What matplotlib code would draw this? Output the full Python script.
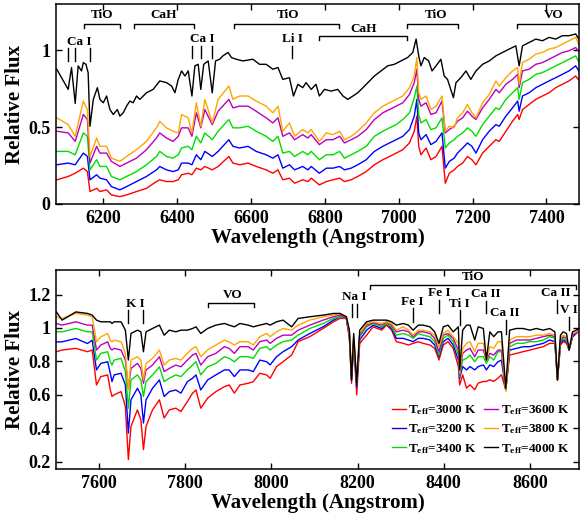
import matplotlib
matplotlib.use("Agg")
import matplotlib.pyplot as plt
import numpy as np

plt.rcParams['font.family'] = ['Liberation Serif', 'DejaVu Serif']
plt.rcParams['font.weight'] = 'bold'
plt.rcParams['mathtext.fontset'] = 'custom'
plt.rcParams['mathtext.rm'] = 'Liberation Serif:bold'
plt.rcParams['mathtext.bf'] = 'Liberation Serif:bold'
plt.rcParams['mathtext.it'] = 'Liberation Serif:bold:italic'

# ---------------- data: upper panel (6080-7490 A) ----------------
wave_top = [6074, 6105, 6124, 6146, 6157, 6164, 6182, 6191, 6209, 6222, 6245, 6263, 6290, 6317,
            6344, 6353, 6371, 6389, 6403, 6412, 6430, 6440, 6452, 6464, 6475, 6495, 6511, 6540,
            6551, 6569, 6592, 6614, 6641, 6659, 6673, 6686,
            6704, 6718, 6740, 6754, 6763, 6785, 6804, 6822, 6840, 6853, 6871, 6889, 6912, 6934,
            6957, 6975, 6993, 7011, 7029, 7042, 7049, 7054, 7060, 7074, 7087, 7101, 7117, 7126,
            7137, 7150, 7159, 7173, 7186, 7198, 7209, 7227, 7245, 7263, 7272, 7290, 7308, 7322,
            7326, 7335, 7353, 7371, 7389, 7407, 7425, 7443, 7461, 7479, 7493]

top_3800 = [0.56, 0.516, 0.44, 0.669, 0.614, 0.309, 0.429, 0.375, 0.375, 0.298, 0.277, 0.309, 0.353, 0.407,
            0.495, 0.538, 0.495, 0.473, 0.462, 0.582, 0.56, 0.462, 0.658, 0.505, 0.68, 0.527, 0.68, 0.767,
            0.68, 0.702, 0.702, 0.669, 0.636, 0.593, 0.636, 0.473,
            0.527, 0.44, 0.484, 0.462, 0.484, 0.407, 0.462, 0.451, 0.473, 0.418, 0.44, 0.473, 0.527, 0.593,
            0.636, 0.658, 0.68, 0.702, 0.756, 0.832, 0.952, 0.723, 0.68, 0.702, 0.614, 0.636, 0.702, 0.473,
            0.505, 0.495, 0.56, 0.593, 0.647, 0.593, 0.56, 0.658, 0.712, 0.80, 0.767, 0.821, 0.865, 0.887,
            0.778, 0.919, 0.941, 0.974, 0.985, 1.007, 1.017, 1.039, 1.061, 1.083, 1.007]

top_3600 = [0.473, 0.462, 0.407, 0.582, 0.549, 0.266, 0.375, 0.331, 0.331, 0.277, 0.244, 0.266, 0.298, 0.353,
            0.429, 0.462, 0.429, 0.407, 0.44, 0.495, 0.495, 0.44, 0.593, 0.495, 0.614, 0.516, 0.603, 0.68,
            0.625, 0.636, 0.636, 0.603, 0.56, 0.527, 0.56, 0.44,
            0.462, 0.418, 0.451, 0.429, 0.451, 0.386, 0.418, 0.418, 0.44, 0.397, 0.418, 0.44, 0.484, 0.549,
            0.593, 0.614, 0.636, 0.658, 0.712, 0.789, 0.876, 0.68, 0.636, 0.658, 0.582, 0.593, 0.669, 0.462,
            0.484, 0.505, 0.538, 0.56, 0.603, 0.571, 0.549, 0.625, 0.68, 0.745, 0.723, 0.778, 0.81, 0.843,
            0.756, 0.865, 0.876, 0.908, 0.919, 0.941, 0.963, 0.985, 0.996, 1.017, 0.974]

top_3400 = [0.342, 0.342, 0.32, 0.462, 0.44, 0.222, 0.288, 0.244, 0.244, 0.179, 0.157, 0.179, 0.211, 0.255,
            0.309, 0.342, 0.309, 0.298, 0.32, 0.364, 0.375, 0.353, 0.44, 0.397, 0.462, 0.418, 0.473, 0.549,
            0.495, 0.495, 0.505, 0.473, 0.44, 0.407, 0.44, 0.331,
            0.342, 0.309, 0.342, 0.32, 0.342, 0.288, 0.32, 0.32, 0.342, 0.298, 0.32, 0.342, 0.375, 0.44,
            0.473, 0.495, 0.516, 0.549, 0.593, 0.691, 0.767, 0.582, 0.527, 0.549, 0.484, 0.495, 0.56, 0.364,
            0.397, 0.418, 0.44, 0.462, 0.495, 0.473, 0.44, 0.516, 0.571, 0.625, 0.614, 0.68, 0.723, 0.756,
            0.68, 0.789, 0.81, 0.843, 0.854, 0.876, 0.898, 0.919, 0.941, 0.963, 0.898]

top_3200 = [0.255, 0.266, 0.255, 0.331, 0.309, 0.157, 0.19, 0.168, 0.157, 0.113, 0.092, 0.113, 0.146, 0.179,
            0.222, 0.244, 0.222, 0.211, 0.222, 0.266, 0.266, 0.255, 0.32, 0.288, 0.342, 0.309, 0.342, 0.418,
            0.375, 0.364, 0.375, 0.342, 0.32, 0.298, 0.32, 0.233,
            0.255, 0.222, 0.244, 0.222, 0.244, 0.2, 0.233, 0.233, 0.244, 0.222, 0.233, 0.255, 0.288, 0.342,
            0.375, 0.397, 0.418, 0.44, 0.484, 0.571, 0.68, 0.462, 0.418, 0.451, 0.386, 0.407, 0.462, 0.233,
            0.277, 0.298, 0.331, 0.364, 0.397, 0.375, 0.331, 0.418, 0.473, 0.516, 0.505, 0.571, 0.625, 0.669,
            0.603, 0.702, 0.723, 0.756, 0.778, 0.80, 0.821, 0.843, 0.865, 0.898, 0.843]

top_3000 = [0.157, 0.179, 0.2, 0.233, 0.211, 0.081, 0.102, 0.081, 0.092, 0.059, 0.048, 0.059, 0.081, 0.102,
            0.146, 0.157, 0.146, 0.146, 0.157, 0.19, 0.2, 0.19, 0.233, 0.222, 0.244, 0.222, 0.244, 0.309,
            0.266, 0.255, 0.266, 0.244, 0.222, 0.2, 0.222, 0.157,
            0.168, 0.135, 0.157, 0.146, 0.168, 0.124, 0.146, 0.157, 0.168, 0.146, 0.157, 0.179, 0.211, 0.255,
            0.288, 0.309, 0.331, 0.353, 0.397, 0.473, 0.571, 0.375, 0.32, 0.364, 0.288, 0.309, 0.375, 0.135,
            0.2, 0.222, 0.244, 0.266, 0.309, 0.288, 0.255, 0.331, 0.375, 0.418, 0.407, 0.473, 0.538, 0.582,
            0.549, 0.614, 0.647, 0.68, 0.702, 0.723, 0.756, 0.778, 0.80, 0.832, 0.789]

wave_top_4000 = [6074, 6105, 6114, 6124, 6132, 6141, 6146, 6153, 6159, 6164, 6173, 6184, 6191, 6200,
                 6209, 6218, 6227, 6238, 6245, 6254, 6263, 6272, 6281, 6290, 6299, 6317, 6335, 6353,
                 6371, 6385, 6394, 6403, 6412, 6421, 6430, 6440, 6448, 6457, 6464, 6472, 6484, 6495,
                 6504, 6515, 6524, 6538, 6547, 6560, 6578, 6605, 6623, 6641, 6659, 6673, 6686, 6704,
                 6715, 6727, 6740, 6749, 6763, 6776, 6785, 6799, 6817, 6835, 6849, 6862, 6876, 6889,
                 6903, 6921, 6934, 6952, 6970, 6988, 7006, 7024, 7038, 7047, 7054, 7060, 7069, 7081,
                 7090, 7101, 7114, 7123, 7132, 7148, 7155, 7168, 7182, 7195, 7209, 7227, 7245, 7263,
                 7281, 7299, 7317, 7326, 7335, 7353, 7371, 7389, 7407, 7425, 7443, 7461, 7479, 7493]
top_4000 = [0.876, 0.745, 0.887, 0.654, 0.898, 0.865, 0.919, 0.908, 0.854, 0.505, 0.68, 0.756, 0.68, 0.658,
            0.702, 0.614, 0.582, 0.614, 0.571, 0.593, 0.636, 0.669, 0.658, 0.702, 0.68, 0.723, 0.745, 0.80,
            0.789, 0.767, 0.723, 0.81, 0.865, 0.832, 0.865, 0.702, 0.898, 0.908, 0.745, 0.908, 0.93, 0.723,
            0.93, 0.941, 0.963, 0.985, 0.952, 0.941, 0.93, 0.941, 0.908, 0.908, 0.876, 0.887, 0.81, 0.821,
            0.702, 0.778, 0.756, 0.789, 0.745, 0.778, 0.702, 0.745, 0.734, 0.745, 0.702, 0.68, 0.702, 0.723,
            0.756, 0.80, 0.832, 0.865, 0.898, 0.908, 0.93, 0.952, 0.985, 1.072, 0.963, 0.898, 0.952, 0.93,
            0.865, 0.898, 0.941, 0.832, 0.81, 0.691, 0.789, 0.821, 0.865, 0.81, 0.865, 0.908, 0.93, 0.963,
            0.985, 1.007, 1.028, 0.898, 1.028, 1.05, 1.072, 1.061, 1.083, 1.072, 1.094, 1.094, 1.105, 1.05]

# ---------------- data: lower panel (7500-8715 A) ----------------
wave_bot = [7501, 7514, 7546, 7573, 7584, 7594, 7604, 7620, 7626, 7630, 7635, 7651, 7661, 7668, 7674,
            7689, 7697, 7703, 7709, 7724, 7740, 7751, 7763, 7778, 7790, 7805, 7817, 7825, 7836, 7852,
            7871, 7891, 7902, 7914,
            7927, 7946, 7958, 7973, 7989, 7997, 8012, 8027, 8047, 8062,
            8089, 8120, 8144, 8159, 8174, 8181, 8186, 8191, 8198, 8205, 8221, 8236, 8256, 8267, 8279,
            8290, 8306, 8318, 8329, 8341, 8352, 8368, 8379, 8389, 8399, 8410, 8422, 8434, 8437, 8444,
            8453, 8461, 8472, 8480, 8492, 8499, 8507, 8516, 8526, 8534, 8544, 8553, 8569, 8584, 8600,
            8615, 8631, 8646, 8658, 8664, 8671, 8677, 8685, 8691, 8699, 8716]

bot_4000 = [1.096, 1.047, 1.096, 1.087, 1.077, 1.047, 1.037, 1.037, 1.037, 1.027, 1.037, 1.037, 0.987, 0.808, 0.967,
            0.987, 0.977, 0.858, 0.977, 0.997, 1.017, 0.957, 0.987, 0.977, 0.987, 0.987, 0.997, 1.007, 0.967, 0.997,
            1.017, 1.027, 1.017, 1.007,
            1.027, 1.017, 1.007, 1.017, 1.027, 1.017, 1.037, 1.047, 1.007, 1.057,
            1.067, 1.077, 1.087, 1.087, 1.067, 0.987, 0.689, 0.967, 0.669, 0.987, 1.037, 1.047, 1.047, 1.047, 1.037,
            1.017, 1.027, 1.017, 0.987, 1.017, 1.017, 1.007, 0.977, 0.908, 1.007, 1.017, 0.977, 1.007, 0.749, 0.987,
            1.017, 1.017, 0.928, 1.007, 0.997, 0.808, 0.977, 0.948, 0.977, 0.977, 0.639, 0.987, 0.997, 0.997, 0.987,
            0.997, 0.987, 0.997, 0.977, 0.689, 0.957, 0.977, 0.967, 0.868, 0.977, 0.997]

bot_3800 = [1.067, 1.057, 1.087, 1.077, 1.067, 0.917, 0.947, 0.967, 0.927, 0.917, 0.927, 0.917, 0.848, 0.629, 0.808,
            0.828, 0.808, 0.689, 0.788, 0.818, 0.868, 0.778, 0.808, 0.818, 0.808, 0.848, 0.878, 0.888, 0.828, 0.868,
            0.898, 0.927, 0.917, 0.898,
            0.918, 0.918, 0.898, 0.948, 0.967, 0.948, 0.977, 0.997, 0.987, 1.017,
            1.047, 1.067, 1.077, 1.087, 1.067, 0.977, 0.729, 0.948, 0.689, 0.967, 1.027, 1.037, 1.027, 1.037, 1.027,
            0.987, 1.007, 0.987, 0.957, 0.987, 0.987, 0.977, 0.957, 0.888, 0.967, 0.987, 0.948, 0.908, 0.729, 0.878,
            0.908, 0.918, 0.858, 0.908, 0.908, 0.808, 0.888, 0.878, 0.918, 0.918, 0.62, 0.928, 0.948, 0.948, 0.948,
            0.957, 0.957, 0.967, 0.957, 0.689, 0.938, 0.957, 0.948, 0.868, 0.967, 0.987]

bot_3600 = [1.027, 1.017, 1.037, 1.017, 1.017, 0.868, 0.898, 0.917, 0.878, 0.868, 0.878, 0.868, 0.808, 0.639, 0.758,
            0.788, 0.758, 0.669, 0.749, 0.778, 0.828, 0.739, 0.758, 0.778, 0.768, 0.808, 0.838, 0.848, 0.778, 0.828,
            0.848, 0.888, 0.878, 0.848,
            0.888, 0.888, 0.868, 0.918, 0.928, 0.908, 0.938, 0.957, 0.957, 0.987,
            1.017, 1.047, 1.067, 1.077, 1.057, 0.967, 0.729, 0.938, 0.679, 0.957, 1.017, 1.031, 1.017, 1.037, 1.017,
            0.977, 0.987, 0.977, 0.948, 0.977, 0.977, 0.967, 0.938, 0.858, 0.957, 0.967, 0.938, 0.868, 0.719, 0.848,
            0.868, 0.878, 0.828, 0.868, 0.868, 0.808, 0.848, 0.838, 0.868, 0.868, 0.629, 0.908, 0.928, 0.928, 0.928,
            0.938, 0.948, 0.957, 0.948, 0.689, 0.928, 0.948, 0.938, 0.868, 0.957, 0.987]

bot_3400 = [0.977, 0.977, 0.997, 0.977, 0.977, 0.808, 0.848, 0.858, 0.798, 0.778, 0.808, 0.818, 0.739, 0.520, 0.689,
            0.719, 0.689, 0.590, 0.679, 0.719, 0.768, 0.679, 0.699, 0.719, 0.709, 0.749, 0.778, 0.798, 0.719, 0.768,
            0.788, 0.828, 0.818, 0.798,
            0.828, 0.828, 0.818, 0.878, 0.888, 0.868, 0.898, 0.918, 0.928, 0.957,
            0.997, 1.027, 1.057, 1.067, 1.057, 0.957, 0.709, 0.928, 0.669, 0.948, 1.007, 1.027, 1.007, 1.027, 1.007,
            0.957, 0.967, 0.957, 0.938, 0.967, 0.957, 0.948, 0.918, 0.838, 0.938, 0.957, 0.918, 0.838, 0.709, 0.808,
            0.818, 0.838, 0.798, 0.828, 0.828, 0.788, 0.828, 0.808, 0.858, 0.858, 0.629, 0.888, 0.908, 0.908, 0.918,
            0.918, 0.928, 0.948, 0.938, 0.689, 0.918, 0.938, 0.928, 0.868, 0.957, 0.987]

bot_3200 = [0.917, 0.917, 0.937, 0.907, 0.927, 0.749, 0.788, 0.798, 0.729, 0.679, 0.719, 0.729, 0.659, 0.371, 0.570,
            0.639, 0.600, 0.431, 0.570, 0.639, 0.689, 0.590, 0.619, 0.629, 0.610, 0.679, 0.699, 0.719, 0.629, 0.689,
            0.719, 0.749, 0.749, 0.709,
            0.749, 0.749, 0.739, 0.808, 0.798, 0.779, 0.828, 0.858, 0.888, 0.928,
            0.967, 1.007, 1.047, 1.067, 1.057, 0.948, 0.689, 0.918, 0.649, 0.928, 0.987, 1.017, 0.997, 1.027, 0.997,
            0.938, 0.938, 0.928, 0.918, 0.938, 0.938, 0.928, 0.898, 0.828, 0.918, 0.938, 0.898, 0.808, 0.699, 0.769,
            0.749, 0.769, 0.749, 0.769, 0.779, 0.749, 0.779, 0.769, 0.798, 0.808, 0.629, 0.868, 0.878, 0.888, 0.888,
            0.898, 0.908, 0.928, 0.918, 0.689, 0.908, 0.928, 0.918, 0.868, 0.948, 0.987]

bot_3000 = [0.858, 0.868, 0.878, 0.858, 0.868, 0.659, 0.709, 0.719, 0.629, 0.590, 0.600, 0.619, 0.530, 0.212, 0.411,
            0.510, 0.451, 0.272, 0.411, 0.510, 0.570, 0.461, 0.510, 0.520, 0.500, 0.560, 0.610, 0.629, 0.520, 0.580,
            0.619, 0.649, 0.659, 0.610,
            0.659, 0.669, 0.679, 0.729, 0.719, 0.699, 0.769, 0.798, 0.838, 0.918,
            0.948, 0.997, 1.037, 1.057, 1.057, 0.938, 0.669, 0.908, 0.600, 0.908, 0.957, 1.007, 0.987, 1.017, 0.987,
            0.918, 0.908, 0.898, 0.908, 0.918, 0.908, 0.898, 0.878, 0.808, 0.898, 0.918, 0.878, 0.769, 0.659, 0.719,
            0.64, 0.66, 0.63, 0.67, 0.68, 0.68, 0.69, 0.68, 0.70, 0.72, 0.629, 0.838, 0.848, 0.858, 0.868,
            0.878, 0.888, 0.908, 0.908, 0.689, 0.898, 0.918, 0.908, 0.868, 0.948, 0.987]

teff_labels = ['3000', '3200', '3400', '3600', '3800', '4000']
colors = ['#ff0000', '#0000ff', '#00dd00', '#bb00bb', '#ffa500', '#000000']

# ---------------- annotations ----------------
top_texts = [("Ca I", 6134, 1.052), ("Ca I", 6468, 1.07), ("Li I", 6711, 1.07),
             ("TiO", 6196, 1.229), ("CaH", 6364, 1.229), ("TiO", 6699, 1.229),
             ("CaH", 6904, 1.14), ("TiO", 7102, 1.229), ("VO", 7420, 1.229)]
top_ticks = [(6105, 1.011, 0.93), (6124, 1.011, 0.93), (6164, 1.011, 0.93),
             (6440, 1.028, 0.946), (6464, 1.028, 0.946), (6495, 1.028, 0.946),
             (6711, 1.028, 0.946)]
top_brackets = [(6148, 6245, 1.17), (6283, 6445, 1.17), (6553, 6837, 1.17),
                (6783, 7021, 1.09), (7023, 7161, 1.17), (7320, 7520, 1.17)]

bot_texts = [("K I", 7684, 1.146), ("VO", 7909, 1.20), ("Na I", 8193, 1.186), ("TiO", 8468, 1.305),
             ("Fe I", 8327, 1.156), ("Fe I", 8389, 1.212), ("Ti I", 8437, 1.146),
             ("Ca II", 8498, 1.206), ("Ca II", 8542, 1.09), ("Ca II", 8659, 1.212), ("V I", 8691, 1.11)]
bot_ticks = [(7668, 1.107, 1.027), (7703, 1.107, 1.027), (8186, 1.146, 1.067), (8198, 1.146, 1.067),
             (8329, 1.117, 1.037), (8389, 1.17, 1.09), (8437, 1.107, 1.02), (8499, 1.162, 1.087),
             (8544, 1.047, 0.963), (8664, 1.17, 1.09), (8691, 1.067, 0.987)]
bot_brackets = [(7852, 7960, 1.15), (8229, 8707, 1.26)]

# ---------------- figure ----------------
fig = plt.figure(figsize=(5.84, 5.21), dpi=100)
ax1 = fig.add_axes([56/584, 1-204/521, 523/584, 200/521])
ax2 = fig.add_axes([56/584, 1-469/521, 523/584, 199/521])

lw = 1.0
top_series = [top_3000, top_3200, top_3400, top_3600, top_3800]
for vals, c in zip(top_series, colors[:5]):
    ax1.plot(wave_top, vals, color=c, lw=lw)
ax1.plot(wave_top_4000, top_4000, color='black', lw=lw)

bot_series = [bot_3000, bot_3200, bot_3400, bot_3600, bot_3800, bot_4000]
handles = []
for vals, c, t in zip(bot_series, colors, teff_labels):
    h, = ax2.plot(wave_bot, vals, color=c, lw=lw,
                  label=r'T$_{\mathrm{eff}}$=' + t + ' K')
    handles.append(h)

ax1.set_xlim(6072, 7488)
ax1.set_ylim(0, 1.3)
ax2.set_xlim(7500, 8714)
ax2.set_ylim(0.156, 1.347)

ax1.set_xticks([6200, 6400, 6600, 6800, 7000, 7200, 7400])
ax1.set_yticks([0, 0.5, 1])
ax1.set_yticklabels(['0', '0.5', '1'])
ax2.set_xticks([7600, 7800, 8000, 8200, 8400, 8600])
ax2.set_yticks([0.2, 0.4, 0.6, 0.8, 1.0, 1.2])
ax2.set_yticklabels(['0.2', '0.4', '0.6', '0.8', '1', '1.2'])

afs = 9.5
bk = dict(color='black', lw=1.0, clip_on=True)
for ax, texts, ticks, brackets in [(ax1, top_texts, top_ticks, top_brackets),
                                   (ax2, bot_texts, bot_ticks, bot_brackets)]:
    for s, x, y in texts:
        ax.text(x, y, s, ha='center', va='center', fontsize=afs, fontweight='bold')
    for x, y0, y1 in ticks:
        ax.plot([x, x], [y0, y1], **bk)
    for x0, x1, y in brackets:
        d = 0.025
        ax.plot([x0, x0, x1, x1], [y - d, y, y, y - d], **bk)

for ax in (ax1, ax2):
    ax.tick_params(direction='in', top=True, right=True, length=4, width=1.0,
                   labelsize=13, pad=4)
    for lab in ax.get_xticklabels() + ax.get_yticklabels():
        lab.set_fontweight('bold')
    for sp in ax.spines.values():
        sp.set_linewidth(1.1)
    ax.set_xlabel('Wavelength (Angstrom)', fontsize=15, fontweight='bold')
    ax.set_ylabel('Relative Flux', fontsize=15, fontweight='bold')
    ax.xaxis.set_label_coords(0.5, -0.12)
    ax.yaxis.set_label_coords(-0.06, 0.5)

leg = ax2.legend(handles=handles, ncol=2, loc='lower right', bbox_to_anchor=(1.0, 0.02),
                 frameon=False, fontsize=9.5, handlelength=1.05, handletextpad=0.2,
                 columnspacing=0.5, labelspacing=0.42, borderaxespad=0.3)
for t in leg.get_texts():
    t.set_fontweight('bold')

fig.savefig('out.png', dpi=100)
